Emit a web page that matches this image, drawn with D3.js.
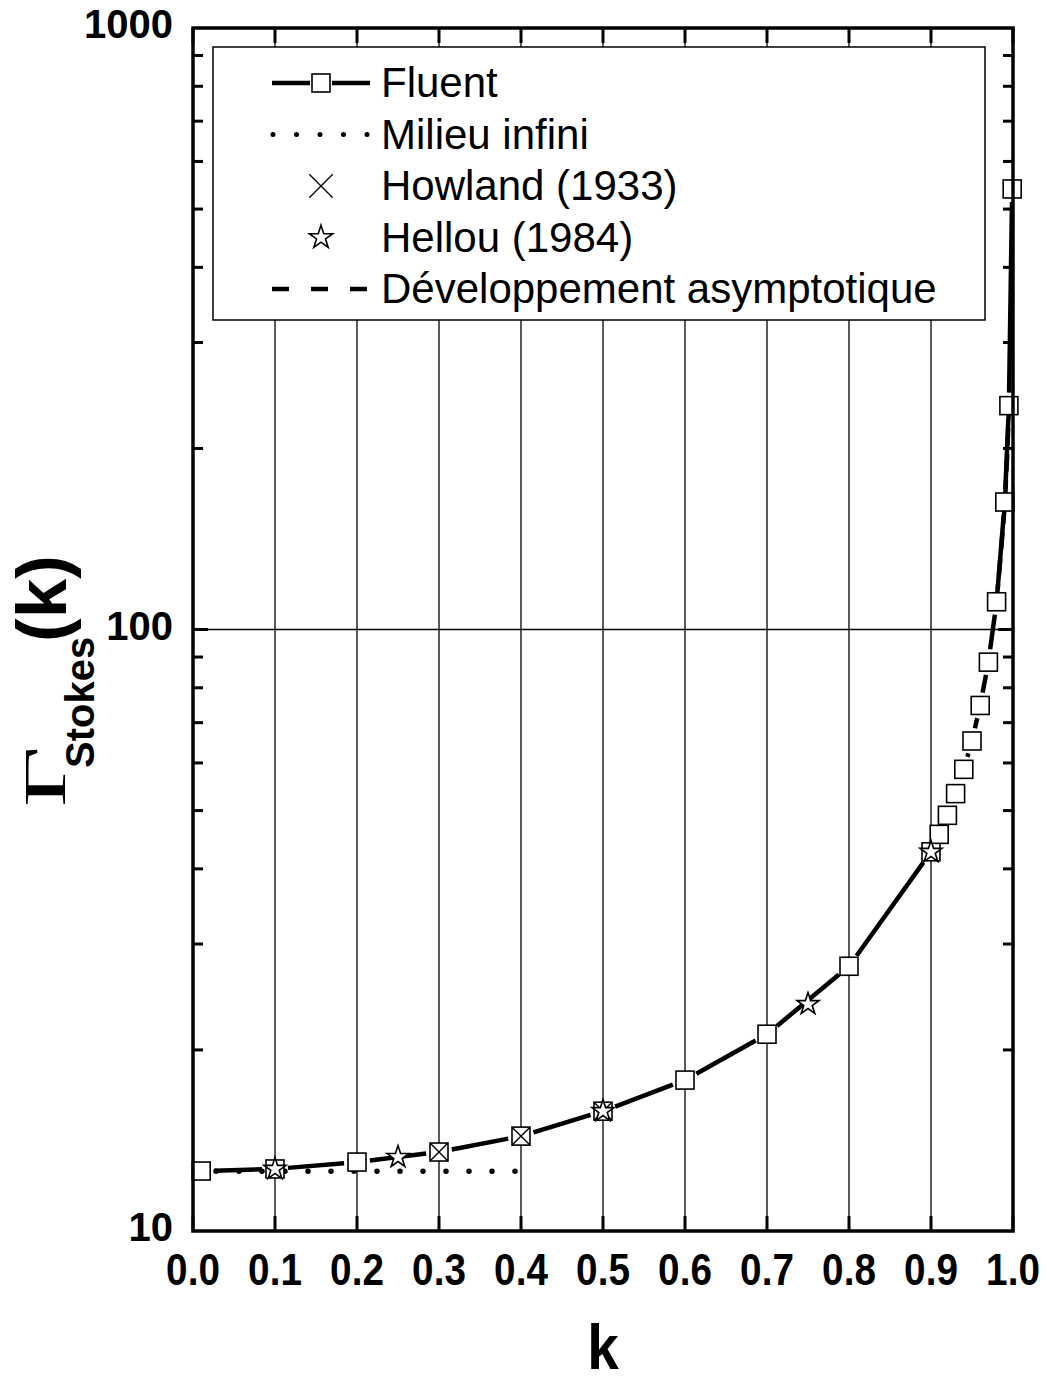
<!DOCTYPE html>
<html><head><meta charset="utf-8">
<script src="https://cdn.jsdelivr.net/npm/d3@7"></script>
<style>body{margin:0;background:#fff}svg{display:block}</style>
</head><body>
<script>
// ---- data ----
const fluentK = [0.01,0.1,0.2,0.3,0.4,0.5,0.6,0.7,0.8,0.9,0.91,0.92,0.93,0.94,0.95,0.96,0.97,0.98,0.99,0.995,0.999];
const fluentV = [12.58,12.68,13.02,13.53,14.38,15.82,17.82,21.24,27.55,42.7,45.65,49.1,53.35,58.55,65.26,74.77,88.25,111.2,162.9,235.6,540];
const infiniK = [0.0,0.4];
const infiniV = [12.566,12.566];
const howlandK = [0.3,0.4,0.5];
const howlandV = [13.53,14.38,15.82];
const hellouK = [0.1,0.25,0.5,0.75,0.9];
const hellouV = [12.68,13.27,15.82,23.83,42.67];
const asymK = [0.98,0.985,0.99,0.993,0.995];
const asymV = [111.5,133,161,196,233];
const xTicks = [0,0.1,0.2,0.3,0.4,0.5,0.6,0.7,0.8,0.9,1.0];
const yTickLabels = [10,100,1000];
const legendLabels = ["Fluent","Milieu infini","Howland (1933)","Hellou (1984)","Développement asymptotique"];

const W=1050,H=1384;
const L=193,R=1013,T=28,B=1231;
const FONT="Liberation Sans, Arial, sans-serif";
const svg=d3.select("body").append("svg").attr("width",W).attr("height",H);
const x=d3.scaleLinear().domain([0,1]).range([L,R]);
const y=d3.scaleLog().domain([10,1000]).range([B,T]);

// grid
const g=svg.append("g");
g.selectAll(".vg").data(xTicks.slice(1,-1)).join("line")
 .attr("x1",d=>x(d)).attr("x2",d=>x(d)).attr("y1",T).attr("y2",B)
 .attr("stroke","#000").attr("stroke-width",1.3);
g.append("line").attr("x1",L).attr("x2",R).attr("y1",y(100)).attr("y2",y(100))
 .attr("stroke","#000").attr("stroke-width",1.3);

// axes ticks
const minor=[];
[10,100].forEach(dec=>{for(let m=2;m<=9;m++)minor.push(dec*m);});
const tk=svg.append("g").attr("stroke","#000").attr("stroke-width",3);
minor.forEach(v=>{
  tk.append("line").attr("x1",L).attr("x2",L+10).attr("y1",y(v)).attr("y2",y(v));
  tk.append("line").attr("x1",R).attr("x2",R-10).attr("y1",y(v)).attr("y2",y(v));
});
[100].forEach(v=>{
  tk.append("line").attr("x1",L).attr("x2",L+15).attr("y1",y(v)).attr("y2",y(v));
  tk.append("line").attr("x1",R).attr("x2",R-15).attr("y1",y(v)).attr("y2",y(v));
});
xTicks.forEach(v=>{
  tk.append("line").attr("x1",x(v)).attr("x2",x(v)).attr("y1",B).attr("y2",B-15);
  tk.append("line").attr("x1",x(v)).attr("x2",x(v)).attr("y1",T).attr("y2",T+15);
});

// tick labels
svg.append("g").selectAll("text").data(xTicks).join("text")
 .attr("transform",d=>`translate(${x(d)},1285) scale(0.86,1)`).attr("text-anchor","middle")
 .attr("font-family",FONT).attr("font-weight","bold").attr("font-size",45)
 .text(d=>d.toFixed(1));
svg.append("g").selectAll("text").data(yTickLabels).join("text")
 .attr("x",173).attr("y",d=>y(d)+10).attr("text-anchor","end")
 .attr("font-family",FONT).attr("font-weight","bold").attr("font-size",40)
 .text(d=>d);

// axis titles
svg.append("text").attr("transform","translate(603,1369) scale(0.9,1)").attr("text-anchor","middle")
 .attr("font-family",FONT).attr("font-weight","bold").attr("font-size",63).text("k");
svg.append("text").attr("transform","translate(65,807) rotate(-90) scale(1.75,1)")
 .attr("font-family","Liberation Serif, Times New Roman, serif").attr("font-size",60).text("Γ");
svg.append("text").attr("transform","translate(94,768) rotate(-90)")
 .attr("font-family",FONT).attr("font-weight","bold").attr("font-size",40).text("Stokes");
svg.append("text").attr("transform","translate(66,642) rotate(-90)")
 .attr("font-family",FONT).attr("font-weight","bold").attr("font-size",71).text("(k)");

// clip
svg.append("clipPath").attr("id","clip").append("rect").attr("x",L).attr("y",T).attr("width",R-L).attr("height",B-T);
const plot=svg.append("g").attr("clip-path","url(#clip)");

// milieu infini dotted
const line=d3.line().x(d=>x(d[0])).y(d=>y(d[1]));
plot.append("path").datum(d3.zip(infiniK,infiniV)).attr("d",line).attr("fill","none")
 .attr("stroke","#000").attr("stroke-width",5.5).attr("stroke-linecap","round").attr("stroke-dasharray","0 23");

// asymptotic dashed
plot.append("path").datum(d3.zip(asymK,asymV)).attr("d",line).attr("fill","none")
 .attr("stroke","#000").attr("stroke-width",4.5).attr("stroke-dasharray","17 9");

// fluent gapped line
const gap=13;
const pts=d3.zip(fluentK,fluentV).map(d=>[x(d[0]),y(d[1])]);
const segs=[];
for(let i=0;i<pts.length-1;i++){
  const [x1,y1]=pts[i],[x2,y2]=pts[i+1];
  const len=Math.hypot(x2-x1,y2-y1);
  if(len>2*gap+1){
    const ux=(x2-x1)/len,uy=(y2-y1)/len;
    segs.push([x1+ux*gap,y1+uy*gap,x2-ux*gap,y2-uy*gap]);
  }
}
plot.selectAll(".seg").data(segs).join("line")
 .attr("x1",d=>d[0]).attr("y1",d=>d[1]).attr("x2",d=>d[2]).attr("y2",d=>d[3])
 .attr("stroke","#000").attr("stroke-width",4.5).attr("stroke-linecap","butt");

// markers
const sq=18;
svg.append("g").selectAll("rect").data(d3.zip(fluentK,fluentV)).join("rect")
 .attr("x",d=>x(d[0])-sq/2).attr("y",d=>y(d[1])-sq/2).attr("width",sq).attr("height",sq)
 .attr("fill","#fff").attr("stroke","#000").attr("stroke-width",1.6);
const times=d3.symbol().type(d3.symbolTimes).size(200);
svg.append("g").selectAll("path").data(d3.zip(howlandK,howlandV)).join("path")
 .attr("transform",d=>`translate(${x(d[0])},${y(d[1])})`).attr("d",times)
 .attr("fill","none").attr("stroke","#000").attr("stroke-width",1.4);
const star=d3.symbol().type(d3.symbolStar).size(150);
svg.append("g").selectAll("path").data(d3.zip(hellouK,hellouV)).join("path")
 .attr("transform",d=>`translate(${x(d[0])},${y(d[1])})`).attr("d",star)
 .attr("fill","#fff").attr("stroke","#000").attr("stroke-width",1.6);

// frame
svg.append("rect").attr("x",L).attr("y",T).attr("width",R-L).attr("height",B-T)
 .attr("fill","none").attr("stroke","#000").attr("stroke-width",3.5);

// legend
const lg=svg.append("g");
lg.append("rect").attr("x",213).attr("y",47).attr("width",772).attr("height",273)
 .attr("fill","#fff").attr("stroke","#000").attr("stroke-width",1.5);
const base=[97,148.5,200,251.5,303];
lg.selectAll("text").data(legendLabels).join("text")
 .attr("x",381).attr("y",(d,i)=>base[i])
 .attr("font-family",FONT).attr("font-size",42).text(d=>d);
const cx=321, cy=i=>base[i]-14;
// fluent
lg.append("line").attr("x1",272).attr("x2",310).attr("y1",cy(0)).attr("y2",cy(0)).attr("stroke","#000").attr("stroke-width",4.5);
lg.append("line").attr("x1",332).attr("x2",370).attr("y1",cy(0)).attr("y2",cy(0)).attr("stroke","#000").attr("stroke-width",4.5);
lg.append("rect").attr("x",cx-9).attr("y",cy(0)-9).attr("width",18).attr("height",18).attr("fill","#fff").attr("stroke","#000").attr("stroke-width",1.6);
// dotted
lg.append("line").attr("x1",273).attr("x2",370).attr("y1",cy(1)).attr("y2",cy(1)).attr("stroke","#000").attr("stroke-width",5)
 .attr("stroke-linecap","round").attr("stroke-dasharray","0 23.5");
// times
lg.append("path").attr("transform",`translate(${cx},${cy(2)})`).attr("d",d3.symbol().type(d3.symbolTimes).size(360))
 .attr("fill","none").attr("stroke","#000").attr("stroke-width",1.3);
// star
lg.append("path").attr("transform",`translate(${cx},${cy(3)})`).attr("d",d3.symbol().type(d3.symbolStar).size(170))
 .attr("fill","#fff").attr("stroke","#000").attr("stroke-width",1.6);
// dashed
lg.append("line").attr("x1",272).attr("x2",370).attr("y1",cy(4)).attr("y2",cy(4)).attr("stroke","#000").attr("stroke-width",4.5)
 .attr("stroke-dasharray","17 22");
</script>
</body></html>
